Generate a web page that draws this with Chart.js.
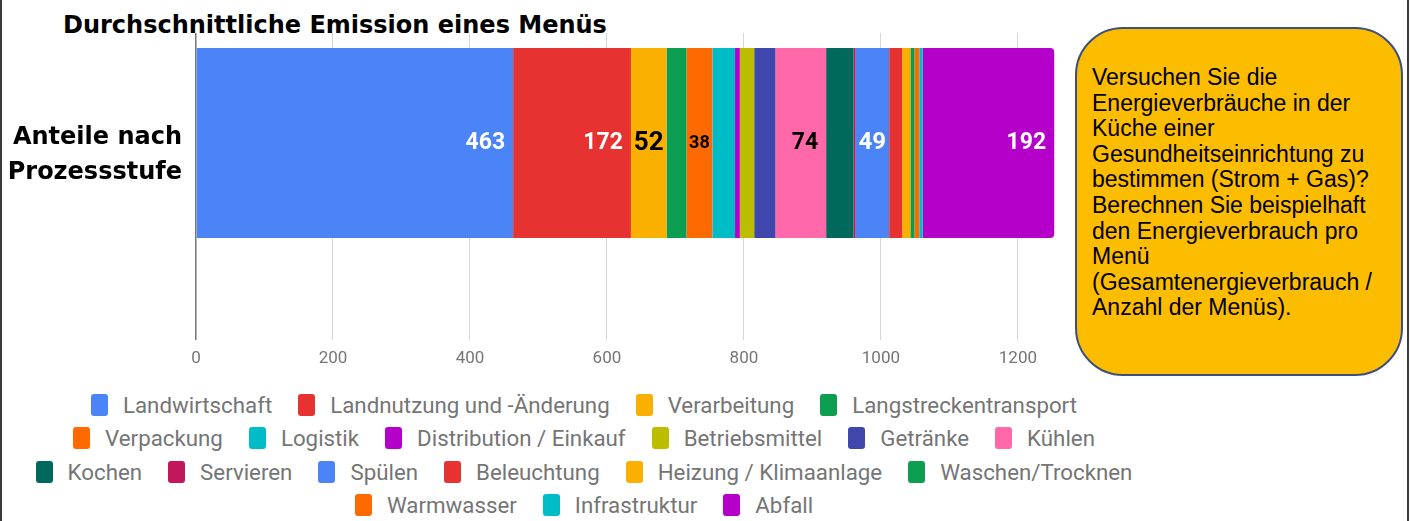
<!DOCTYPE html>
<html lang="de">
<head>
<meta charset="utf-8">
<title>Durchschnittliche Emission eines Menüs</title>
<script src="https://cdn.jsdelivr.net/npm/chart.js@4.4.1/dist/chart.umd.min.js"></script>
<style>
    html, body { margin: 0; padding: 0; background: #fff; }
    body { width: 1410px; height: 521px; position: relative; overflow: hidden; font-family: Roboto, sans-serif; }
    .frame { position: absolute; top: 0; bottom: 0; width: 2px; background: #3a3a3a; }
    #title { position: absolute; left: 63px; top: 11px; font: bold 24px/28px "DejaVu Sans", sans-serif; color: #000; white-space: nowrap; }
    #chartBox { position: absolute; left: 0; top: 0; width: 1075px; height: 373px; }
    #legend { position: absolute; left: 9px; top: 388px; width: 1150px; display: flex; flex-wrap: wrap; justify-content: center; }
    .legend-item { display: flex; align-items: center; height: 33.5px; margin: 0 13px; font-size: 22.3px; color: #757575; white-space: nowrap; }
    .legend-box { width: 17px; height: 22px; border-radius: 3px; margin-right: 15px; }
    #note {
        position: absolute; left: 1075px; top: 27px; width: 328px; height: 349px; box-sizing: border-box;
        border: 2px solid #3d4f7c; border-radius: 48px; background: #fcbc00;
        padding: 36px 6px 0 15px; font: 23px/25.6px "Liberation Sans", Arial, sans-serif; color: #000;
    }
</style>
</head>
<body>
    <div class="frame" style="left:0"></div>
    <div class="frame" style="left:1407px"></div>
    <div id="title">Durchschnittliche Emission eines Menüs</div>
    <div id="chartBox"><canvas id="emissionChart"></canvas></div>
    <div id="legend"></div>
    <div id="note">
        Versuchen Sie die<br>
        Energieverbräuche in der<br>
        Küche einer<br>
        Gesundheitseinrichtung zu<br>
        bestimmen (Strom + Gas)?<br>
        Berechnen Sie beispielhaft<br>
        den Energieverbrauch pro<br>
        Menü<br>
        (Gesamtenergieverbrauch /<br>
        Anzahl der Menüs).
    </div>

    <script>
        const categories = [['Anteile nach', 'Prozessstufe']];
        const seriesNames = [
            'Landwirtschaft', 'Landnutzung und -Änderung', 'Verarbeitung', 'Langstreckentransport',
            'Verpackung', 'Logistik', 'Distribution / Einkauf', 'Betriebsmittel', 'Getränke', 'Kühlen',
            'Kochen', 'Servieren', 'Spülen', 'Beleuchtung', 'Heizung / Klimaanlage', 'Waschen/Trocknen',
            'Warmwasser', 'Infrastruktur', 'Abfall'
        ];
        const seriesValues = [463, 172, 52, 29, 38, 33, 7, 21, 31, 74, 40, 3, 49, 19, 12, 6, 7, 5, 192];
        const seriesColors = [
            '#4a84f6', '#e63331', '#f9b000', '#0b9e50', '#ff6a00', '#00bcc6', '#b400c8', '#bdbd00',
            '#3f47ad', '#ff69a9', '#00695c', '#c2185b', '#4a84f6', '#e63331', '#f9b000', '#0b9e50',
            '#ff6a00', '#00bcc6', '#b400c8'
        ];
        // only these segments carry a value label in the original
        const labelledSeries = ['Landwirtschaft', 'Landnutzung und -Änderung', 'Verarbeitung', 'Verpackung', 'Kühlen', 'Spülen', 'Abfall'];
        const xTicks = [0, 200, 400, 600, 800, 1000, 1200];
        const xMax = 1260;

        function isLight(hex) {
            const c = [1, 3, 5].map(i => parseInt(hex.substr(i, 2), 16) / 255)
                .map(v => v <= 0.04 ? v / 12.92 : Math.pow((v + 0.055) / 1.055, 2.4));
            return 0.2126 * c[0] + 0.7152 * c[1] + 0.0722 * c[2] > 0.3;
        }

        const barLabels = {
            id: 'barLabels',
            afterDatasetsDraw(chart) {
                const ctx = chart.ctx;
                chart.data.datasets.forEach((ds, i) => {
                    if (!labelledSeries.includes(ds.label)) return;
                    chart.getDatasetMeta(i).data.forEach((bar, j) => {
                        const text = String(ds.data[j]);
                        const segW = bar.x - bar.base;
                        let size = 23;
                        ctx.save();
                        ctx.font = `bold ${size}px Roboto`;
                        const w = ctx.measureText(text).width;
                        let x = bar.x - 8;
                        let align = 'right';
                        if (w + 10 > segW) {
                            size = Math.floor(size * (segW - 5) / w);
                            ctx.font = `bold ${size}px Roboto`;
                            x = (bar.x + bar.base) / 2;
                            align = 'center';
                        }
                        ctx.fillStyle = isLight(ds.backgroundColor) ? '#000' : '#fff';
                        ctx.textAlign = align;
                        ctx.textBaseline = 'middle';
                        ctx.fillText(text, x, bar.y);
                        ctx.restore();
                    });
                });
            }
        };

        const htmlLegend = {
            id: 'htmlLegend',
            afterUpdate(chart) {
                const box = document.getElementById('legend');
                box.innerHTML = '';
                Chart.defaults.plugins.legend.labels.generateLabels(chart).forEach(item => {
                    const el = document.createElement('div');
                    el.className = 'legend-item';
                    el.innerHTML = `<span class="legend-box" style="background:${item.fillStyle}"></span>${item.text}`;
                    box.appendChild(el);
                });
            }
        };

        const gridColor = ctx => ctx.tick && ctx.tick.value === 0 ? '#777777' : '#d6d6d6';
        const gridWidth = ctx => ctx.tick && ctx.tick.value === 0 ? 1.5 : 1;

        const datasets = seriesNames.map((name, i) => ({
            label: name,
            data: [seriesValues[i]],
            backgroundColor: seriesColors[i],
            borderWidth: 0,
            borderRadius: i === seriesNames.length - 1 ? 4 : 0,
            categoryPercentage: 1,
            barPercentage: 0.864
        }));

        new Chart(document.getElementById('emissionChart'), {
            type: 'bar',
            data: { labels: categories, datasets },
            options: {
                indexAxis: 'y',
                responsive: true,
                maintainAspectRatio: false,
                animation: false,
                layout: { padding: { top: 33, right: 16, left: 0, bottom: 0 } },
                plugins: {
                    legend: { display: false },
                    tooltip: { enabled: false }
                },
                scales: {
                    x: {
                        stacked: true,
                        min: 0,
                        max: xMax,
                        afterBuildTicks: s => { s.ticks = xTicks.map(v => ({ value: v })); },
                        afterFit: s => { s.height = 120; },
                        border: { display: false },
                        grid: {
                            color: gridColor,
                            lineWidth: gridWidth,
                            tickColor: gridColor,
                            tickWidth: gridWidth,
                            tickLength: 87,
                            drawTicks: true
                        },
                        ticks: {
                            padding: 9,
                            color: '#757575',
                            font: { family: 'Roboto', size: 17 },
                            callback: v => String(v)
                        }
                    },
                    y: {
                        stacked: true,
                        afterFit: s => { s.width = 196; s.paddingTop = 0; s.paddingBottom = 0; },
                        border: { display: false },
                        grid: { display: false, drawTicks: false },
                        ticks: {
                            padding: 14,
                            labelOffset: 12,
                            color: '#000',
                            font: { family: 'DejaVu Sans', size: 24, weight: 'bold', lineHeight: 1.45 }
                        }
                    }
                }
            },
            plugins: [barLabels, htmlLegend]
        });
    </script>
</body>
</html>
